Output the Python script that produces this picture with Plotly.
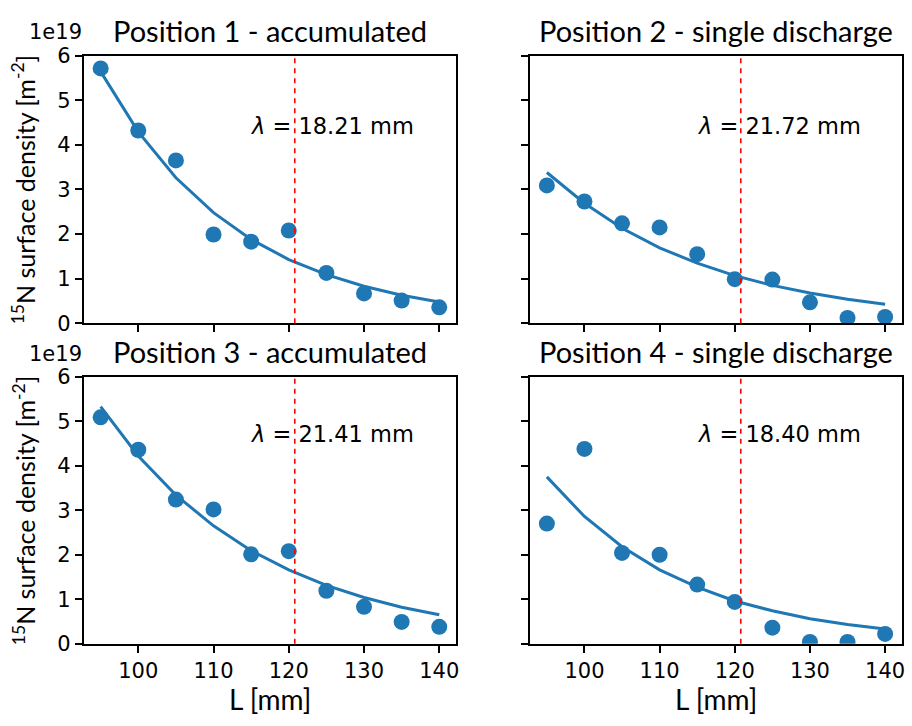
import plotly.graph_objects as go

W, H = 912, 726

# ---- data (surface density in units of 1e19 m^-2) ----
L_mm = [95, 100, 105, 110, 115, 120, 125, 130, 135, 140]

meas_p1 = [5.71, 4.32, 3.65, 1.99, 1.83, 2.08, 1.13, 0.67, 0.51, 0.36]
fit_p1 = [5.64, 4.29, 3.26, 2.48, 1.88, 1.43, 1.09, 0.83, 0.63, 0.48]

meas_p2 = [3.09, 2.73, 2.24, 2.15, 1.55, 0.99, 0.98, 0.47, 0.12, 0.145]
fit_p2 = [3.38, 2.69, 2.13, 1.69, 1.35, 1.07, 0.85, 0.68, 0.54, 0.43]

meas_p3 = [5.09, 4.36, 3.24, 3.02, 2.01, 2.08, 1.19, 0.83, 0.49, 0.38]
fit_p3 = [5.33, 4.22, 3.34, 2.65, 2.09, 1.66, 1.31, 1.04, 0.82, 0.65]

meas_p4 = [2.70, 4.38, 2.04, 2.00, 1.33, 0.94, 0.36, 0.04, 0.04, 0.22]
fit_p4 = [3.75, 2.86, 2.18, 1.66, 1.27, 0.96, 0.74, 0.56, 0.43, 0.33]

titles = ["Position 1 - accumulated", "Position 2 - single discharge",
          "Position 3 - accumulated", "Position 4 - single discharge"]
lambdas = ["18.21", "21.72", "21.41", "18.40"]
vline_x = 120.8

x_ticks = [100, 110, 120, 130, 140]
y_ticks = [0, 1, 2, 3, 4, 5, 6]

BLUE = "#1f77b4"
TICKFONT = dict(family="DejaVu Sans", size=21, color="black")
LABFONT = "Lato"


def px(x):
    return x / W


def py(y):
    return 1 - y / H


# panel pixel boxes: (left, right, top, bottom)
boxes = [
    (84, 457.7, 45, 322),
    (531.7, 905, 45, 322),
    (84, 457.7, 377.3, 653.3),
    (531.7, 905, 377.3, 653.3),
]
meas = [meas_p1, meas_p2, meas_p3, meas_p4]
fits = [fit_p1, fit_p2, fit_p3, fit_p4]

fig = go.Figure()
layout = dict(
    width=W, height=H,
    margin=dict(l=0, r=0, t=0, b=0),
    paper_bgcolor="white", plot_bgcolor="white",
    showlegend=False,
)
annotations = []
shapes = []

for i in range(4):
    n = "" if i == 0 else str(i + 1)
    xa, ya = "x" + n, "y" + n
    l, r, t, b = boxes[i]
    fig.add_trace(go.Scatter(x=L_mm, y=fits[i], mode="lines",
                             line=dict(color=BLUE, width=3),
                             xaxis=xa, yaxis=ya))
    fig.add_trace(go.Scatter(x=L_mm, y=meas[i], mode="markers",
                             marker=dict(color=BLUE, size=16, line=dict(width=0)),
                             xaxis=xa, yaxis=ya))
    bottom_row = i >= 2
    left_col = i % 2 == 0
    layout["xaxis" + n] = dict(
        domain=[px(l), px(r)], anchor=ya, range=[92.75, 142.25],
        tickvals=x_ticks, showticklabels=bottom_row,
        ticks="outside", ticklen=7, tickwidth=1.6, tickcolor="black",
        showline=True, linecolor="black", linewidth=1.6, mirror=True,
        showgrid=False, zeroline=False, tickfont=TICKFONT,
    )
    layout["yaxis" + n] = dict(
        domain=[py(b), py(t)], anchor=xa, range=[0, 6],
        tickvals=y_ticks, showticklabels=left_col,
        ticks="outside", ticklen=7, tickwidth=1.6, tickcolor="black",
        showline=True, linecolor="black", linewidth=1.6, mirror=True,
        showgrid=False, zeroline=False, tickfont=TICKFONT,
    )
    # red dashed vertical line
    shapes.append(dict(type="line", xref=xa, yref=ya + " domain",
                       x0=vline_x, x1=vline_x, y0=0, y1=1,
                       line=dict(color="red", width=1.6, dash="5px,5px")))
    # title
    annotations.append(dict(text=titles[i], xref="paper", yref="paper",
                            x=px((l + r) / 2), y=py(t - 26), xanchor="center",
                            yanchor="middle", showarrow=False,
                            font=dict(family=LABFONT, size=29, color="black")))
    # lambda label
    ly = 118 if i < 2 else 436.7
    annotations.append(dict(text="<i>λ</i> = " + lambdas[i] + " mm",
                            xref="paper", yref="paper",
                            x=px(l + 0.445 * (r - l)), y=py(ly),
                            xanchor="left", yanchor="middle", showarrow=False,
                            font=dict(family="DejaVu Sans", size=22.5, color="black")))
    if left_col:
        annotations.append(dict(text="1e19", xref="paper", yref="paper",
                                x=px(27), y=py(t - 24), xanchor="left",
                                yanchor="middle", showarrow=False,
                                font=TICKFONT))
        annotations.append(dict(text="<sup>15</sup>N surface density [m<sup>-2</sup>]",
                                xref="paper", yref="paper",
                                x=px(24), y=py((t + b) / 2), xanchor="center",
                                yanchor="middle", textangle=-90, showarrow=False,
                                font=dict(family=LABFONT, size=25, color="black")))
    if bottom_row:
        annotations.append(dict(text="L [mm]", xref="paper", yref="paper",
                                x=px((l + r) / 2), y=py(711), xanchor="center",
                                yanchor="middle", showarrow=False,
                                font=dict(family=LABFONT, size=28, color="black")))

layout["annotations"] = annotations
layout["shapes"] = shapes
fig.update_layout(**layout)
fig.write_html(
    "out.html",
    config={"displayModeBar": False},
    post_script="document.body.style.margin='0';document.body.style.overflow='hidden';",
)
